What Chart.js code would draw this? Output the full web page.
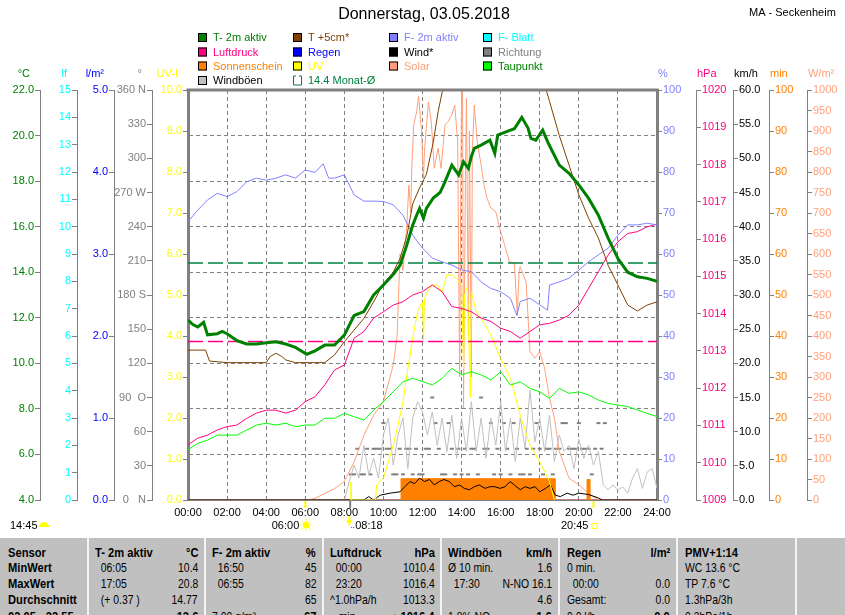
<!DOCTYPE html>
<html><head><meta charset="utf-8">
<script src="https://cdn.jsdelivr.net/npm/chart.js@4.4.0/dist/chart.umd.min.js"></script>
<style>
html,body{margin:0;padding:0;background:#fff;}
#wrap{position:relative;width:845px;height:615px;overflow:hidden;}
#c{position:absolute;left:0;top:0;}
#tbl{position:absolute;left:0;top:538px;width:845px;height:77px;background:#c0c0c0;font-family:'Liberation Sans',Arial,sans-serif;font-size:13px;color:#000;overflow:hidden;}
.cell{position:absolute;white-space:pre;line-height:16px;}
.sep{position:absolute;top:0;bottom:0;width:2px;background:#f4f4f4;}
</style></head>
<body><div id="wrap"><canvas id="c" width="845" height="615"></canvas><div id="tbl"></div></div>
<script>
// ---------------- DATA ----------------
const t2mHours = [0,0.25,0.5,0.8,1,1.5,1.75,2,2.5,3,3.5,4,4.5,5,5.5,6.08,6.5,7,7.5,8,8.5,9,9.5,10,10.5,10.85,11.2,11.5,11.7,11.85,12.05,12.2,12.55,12.9,13.15,13.5,13.85,14.1,14.35,14.5,14.65,15,15.45,15.7,15.85,16.3,16.7,17.08,17.4,17.55,17.8,18.15,18.4,18.65,19,19.5,20,20.5,21,21.5,22,22.5,23,23.5,24];
const t2mValues = [11.9,11.7,11.6,11.8,11.25,11.3,11.4,11.3,11.0,10.85,10.85,10.9,10.95,10.85,10.7,10.4,10.55,10.8,10.8,11.24,12.1,12.27,13.0,13.44,13.9,14.3,15.2,16.07,16.5,16.8,16.37,16.8,17.26,17.5,17.97,18.7,18.27,18.85,18.56,19.07,19.44,19.58,19.8,19.22,20.02,20.17,20.3,20.8,20.33,19.88,19.8,20.24,19.73,19.3,18.7,18.34,17.83,17.24,16.5,15.5,14.6,14.0,13.8,13.73,13.6];

const t5Hours = [0,0.9,1.1,2,4,4.2,4.5,4.8,5,5.5,7,7.5,8,8.5,9,9.5,10,10.5,10.85,11.2,11.5,11.85,12.2,12.55,12.8,13.03,13.5,14,15,16,17,18,18.33,18.5,19,19.5,20,20.5,21,21.5,22,22.5,23,23.5,24];
const t5Values = [10.58,10.58,10.1,10.03,10.03,10.3,10.44,10.3,10.15,10.03,10.03,10.37,10.95,11.46,11.97,12.7,13.5,14.0,14.6,15.6,17.0,17.7,18.3,19.7,21.05,22.0,24.5,26,27,26.5,25,23,22.0,21.5,20.0,18.7,17.4,16.37,15.5,14.3,13.44,12.56,12.3,12.56,12.7];

const humHours = [0,0.5,1,1.5,2,2.5,3,3.5,4,4.5,5,5.5,6,6.5,6.92,7.2,7.5,8,8.5,9,9.5,10,10.5,11,11.5,12,12.5,13,13.5,14,14.5,15,15.5,16,16.5,16.83,17,17.5,18,18.4,18.5,19,19.5,20,20.5,21,21.5,22,22.5,23,23.5,24];
const humValues = [67.9,70.7,73.2,74.8,74.0,75.2,77.6,78.5,78.0,78.5,79.3,78.5,80.5,79.9,82,78.5,78.5,79.3,74.4,72.9,72.9,72.8,72.0,69.5,64.6,61.4,59.0,58.1,57.3,56.1,55.7,53.2,51.6,50.8,49.2,45,48.4,49.2,47.6,46.3,52.4,53.2,54.1,56.1,58.1,59.8,61.4,64.6,67.1,67.1,67.5,67.1];

const halfHours = Array.from({length: 49}, (_, i) => i / 2);
const pressureValues = [1010.48,1010.66,1010.74,1010.88,1010.97,1011.01,1011.19,1011.33,1011.41,1011.41,1011.33,1011.41,1011.64,1011.77,1012.09,1012.49,1012.62,1013.34,1013.52,1013.88,1014.05,1014.23,1014.32,1014.5,1014.59,1014.77,1014.59,1014.19,1014.14,1014.05,1013.88,1013.79,1013.61,1013.52,1013.34,1013.52,1013.7,1013.74,1013.83,1013.96,1014.23,1014.68,1015.13,1015.57,1015.93,1016.15,1016.2,1016.33,1016.4];
const dewValues = [6.2,6.49,6.63,6.85,6.85,6.85,7.07,7.29,7.37,7.29,7.37,7.22,7.29,7.29,7.59,7.59,7.8,7.66,7.51,7.95,8.32,8.75,9.19,9.34,9.2,9.05,9.34,9.78,9.49,9.63,9.49,9.27,9.63,9.05,9.19,8.9,8.75,8.46,8.9,8.68,8.75,8.61,8.39,8.24,8.17,8.1,7.95,7.8,7.66];

const solarHours = [0,6.1,6.5,7,7.5,8,8.5,9,9.5,10,10.5,10.7,10.85,11.0,11.2,11.3,11.4,11.45,11.55,11.7,11.8,11.95,12.05,12.1,12.3,12.45,12.6,12.8,12.95,13.15,13.3,13.5,13.65,13.8,13.9,13.95,14.0,14.05,14.1,14.2,14.25,14.35,14.4,14.5,14.55,14.65,14.8,15.0,15.15,15.3,15.5,15.75,15.95,16.2,16.45,16.7,16.85,16.95,17.0,17.3,17.5,17.75,18.0,18.25,18.5,18.75,19,19.5,20,20.5,21,24];
const solarValues = [0,0,4,16,28,45,93,158,207,240,329,400,600,560,671,768,700,810,915,947,985,900,785,850,971,923,809,858,809,915,923,939,963,874,300,700,996,1000,224,800,980,400,900,300,850,963,874,817,768,736,712,703,663,622,581,578,451,560,569,532,362,346,362,321,248,200,118,53,37,16,0,0];

const uvHours = [8.3,8.33,8.38,9.6,9.65,10,10.25,10.5,10.75,11,11.25,11.5,11.75,12,12.05,12.1,12.25,12.5,12.75,13,13.25,13.5,13.75,14,14.1,14.15,14.3,14.45,14.5,14.75,15,15.5,16,16.5,17,17.5,18,18.5,18.75];
const uvValues = [0,0.44,0,0,0.37,0.53,0.93,1.34,1.83,2.4,3.2,3.95,4.6,4.84,3.86,4.9,5.08,5.24,5.24,5.08,5.49,5.49,5.4,5.24,3.2,5.0,5.2,2.5,5.08,4.6,4.43,4.02,3.45,2.97,2.07,1.34,0.93,0.45,0];

const windHours = [0,9.0,9.25,9.5,9.83,10.34,10.85,11.1,11.36,11.6,11.85,12.1,12.36,12.6,12.86,13.1,13.37,13.63,13.9,14.14,14.4,14.65,14.9,15.2,15.45,15.7,15.97,16.23,16.48,16.7,17.0,17.25,17.5,17.76,18.0,18.3,18.55,18.8,19.05,19.4,19.7,20.0,20.5,21.0,21.2,24];
const windValues = [0,0,0.5,0,0.7,1.0,1.2,1.95,2.7,2.4,3.2,2.7,3.0,2.2,2.7,3.0,2.7,1.95,2.2,1.7,1.5,1.95,2.2,1.7,1.95,1.95,1.7,1.95,2.7,2.2,1.5,1.95,1.7,1.95,1.2,1.7,2.2,0.7,0.5,1.0,0.7,1.0,0.8,0.3,0,0];

const gustHours = [0].concat(Array.from({length: 65}, (_, i) => 8 + i / 4));
const gustValues = [0, 0,2.7,5.1,3.2,8.0,3.7,6.1,3.2,9.5,12.0,5.1,9.5,12.0,4.6,12.0,14.4,12.9,
  9.5,12.9,8.0,12.0, 7.1,12.4,6.1,12.0, 7.1,14.4,7.1,12.0, 6.1,12.0,8.0,14.4, 7.1,12.0,5.6,12.0,
  7.6,16.1,8.5,12.0, 7.1,12.4,5.6,9.5, 7.1,8.0,4.6,8.9, 6.1,8.0,5.1,7.1, 2.2,1.5,2.2,1.5,
  1.9,1.0,3.2,4.6, 1.7,4.1,4.6,1.7];

const sunHours = [0,10.9,10.9,14.46,14.46,14.5,14.5,18.78,18.78,20.42,20.42,20.56,20.56,24];
const sunValues = [0,0,5.2,5.2,0,0,5.2,5.2,0,0,5.0,5.0,0,0];

const dirHours = Array.from({length: 79}, (_, i) => 8 + 1/3 + i / 6);
const dirValues = [22.5,22.5,45,22.5, 22.5,45,22.5,45,45,45, 67.5,45,45,22.5,22.5,45, 22.5,45,45,22.5,45,22.5,
  22.5,45,45,90,67.5,45, 22.5,22.5,67.5,45,22.5,45, 22.5,45,22.5,45,45,22.5, 90,45,45,67.5,22.5,45,
  22.5,67.5,45,22.5,67.5,45, 22.5,22.5,45,22.5,45,67.5, 45,22.5,45,45,22.5,45, 45,67.5,67.5,45,45,45,
  67.5,45,45,45,22.5,45, 67.5,45,67.5];

const rainHours = [0, 24];
const rainValues = [0, 0];

const monthAvgTemp = 14.4;
const pressureRef = 1013.25;

const markerTimes = [6.0, 8.3, 20.75];
const markerLabels = ['06:00', '08:18', '20:45'];
const dayLength = '14:45';

const xTickHours = [0,2,4,6,8,10,12,14,16,18,20,22,24];

const legendLabels = ['T- 2m aktiv','T +5cm*','F- 2m aktiv','F- Blatt','Luftdruck','Regen','Wind*','Richtung','Sonnenschein','UV','Solar','Taupunkt','Windböen', monthAvgTemp.toFixed(1) + ' Monat-Ø'];
const legendBoxColors = ['#008000','#804000','#8080ff','#00ffff','#ff0080','#0000ff','#000000','#808080','#ff8000','#ffff00','#ffa07a','#00ff00','#c0c0c0',null];
const legendTextColors = ['#008000','#804000','#8080ff','#00ffff','#ff0080','#0000ff','#000000','#808080','#ff8000','#ffff00','#ffa07a','#008000','#000000','#008040'];

const tableRows = [
  ['Sensor','T- 2m aktiv','°C','F- 2m aktiv','%','Luftdruck','hPa','Windböen','km/h','Regen','l/m²','PMV+1:14'],
  ['MinWert','  06:05','10.4','  16:50','45','  00:00','1010.4','Ø 10 min.','1.6','0 min.','','WC 13.6 °C'],
  ['MaxWert','  17:05','20.8','  06:55','82','  23:20','1016.4','  17:30','N-NO 16.1','  00:00','0.0','TP 7.6 °C'],
  ['Durchschnitt','  (+ 0.37 )','14.77','','65','^1.0hPa/h','1013.3','','4.6','Gesamt:','0.0','1.3hPa/3h'],
  ['03.05 - 23.55','','13.6','7.00 g/m³','67','   min','▲1016.4','1.8% NO','1.6','0.0 l/h','0.0','0.3hPa/1h']
];

// ---------------- CHART ----------------
const FONT = "'Liberation Sans', Arial, sans-serif";
const pts = (h, v) => h.map((x, i) => ({x: x, y: v[i]}));
function line(label, data, axis, color, width, extra) {
  return Object.assign({label, data, yAxisID: axis, borderColor: color, backgroundColor: color,
    borderWidth: width, pointRadius: 0, tension: 0, fill: false}, extra || {});
}
const datasets = [
  line('T- 2m aktiv', pts(t2mHours, t2mValues), 'yC', '#008000', 3),
  line('T +5cm*', pts(t5Hours, t5Values), 'yC', '#804000', 1),
  line('Monat-Ø', pts([0, 24], [monthAvgTemp, monthAvgTemp]), 'yC', '#008040', 1.5, {borderDash: [15, 5]}),
  line('F- 2m aktiv', pts(humHours, humValues), 'yPct', '#8080ff', 1),
  line('Luftdruck', pts(halfHours, pressureValues), 'yHpa', '#ff0080', 1),
  line('Luftdruck-Ref', pts([0, 24], [pressureRef, pressureRef]), 'yHpa', '#ff0080', 1.5, {borderDash: [15, 5]}),
  line('Taupunkt', pts(halfHours, dewValues), 'yC', '#00ff00', 1),
  line('UV', pts(uvHours, uvValues), 'yUV', '#ffff00', 1),
  line('Wind*', pts(windHours, windValues), 'yKmh', '#000000', 1),
  line('Sonnenschein', pts(sunHours, sunValues), 'yMin', '#ff8000', 1, {fill: 'origin', backgroundColor: '#ff8000'}),
  line('Windböen', pts(gustHours, gustValues), 'yKmh', '#c0c0c0', 1),
  line('Solar', pts(solarHours, solarValues), 'yW', '#ffa07a', 1),
  line('Richtung', pts(dirHours, dirValues), 'yDeg', '#808080', 0, {showLine: false, pointRadius: 2, pointStyle: 'line', pointBorderColor: '#808080', pointBorderWidth: 2}),
  line('Regen', pts(rainHours, rainValues), 'yRain', '#0000ff', 1)
];

const tickFont = {family: FONT, size: 11};
function yAxis(pos, weight, width, min, max, step, color, fmt, extra) {
  const base = {
    type: 'linear', position: pos, weight, min, max,
    afterFit: s => { s.width = width; },
    ticks: {stepSize: step, color, font: tickFont, padding: 1, autoSkip: false, callback: fmt},
    grid: {drawOnChartArea: false, drawTicks: true, tickLength: 5, tickColor: '#808080', color: '#808080'},
    border: {color: '#808080', width: 1}
  };
  if (extra) {
    for (const k in extra) base[k] = Object.assign({}, base[k], extra[k]);
  }
  return base;
}
const f1 = v => Number(v).toFixed(1);
const f0 = v => String(Math.round(v));
const degNames = {0: '0\u00a0\u00a0\u00a0N', 90: '90\u00a0\u00a0O', 180: '180 S', 270: '270 W', 360: '360 N'};

const scales = {
  x: {
    type: 'linear', min: 0, max: 24,
    afterFit: s => { s.height = 25; },
    afterBuildTicks: s => { s.ticks = xTickHours.map(v => ({value: v})); },
    ticks: {color: '#000', font: tickFont, padding: 6, autoSkip: false, maxRotation: 0,
      callback: v => String(v).padStart(2, '0') + ':00'},
    grid: {drawOnChartArea: true, drawTicks: false, color: '#808080'},
    border: {display: true, color: '#808080', width: 1, dash: [4, 3]}
  },
  yC: yAxis('left', 5, 40, 4, 22, 2, '#008000', f1, {grid: {drawOnChartArea: true}, border: {dash: [4, 3]}}),
  yLf: yAxis('left', 4, 37, 0, 15, 1, '#00ffff', f0),
  yRain: yAxis('left', 3, 37, 0, 5, 1, '#0000ff', f1),
  yDeg: yAxis('left', 2, 38, 0, 360, 30, '#808080', v => degNames[v] || String(v)),
  yUV: yAxis('left', 1, 36, 0, 10, 1, '#ffff00', f1, {border: {width: 3}}),
  yPct: yAxis('right', 1, 39, 0, 100, 10, '#8080ff', f0, {border: {width: 3}}),
  yHpa: yAxis('right', 2, 37, 1009, 1020, 1, '#ff0080', f0),
  yKmh: yAxis('right', 3, 36, 0, 60, 5, '#000000', f1),
  yMin: yAxis('right', 4, 38, 0, 100, 10, '#ff8000', f0),
  yW: yAxis('right', 5, 38, 0, 1000, 50, '#ffa07a', f0)
};

const axisTitles = {yC: ['°C', '#008000'], yLf: ['lf', '#00ffff'], yRain: ['l/m²', '#0000ff'], yDeg: ['°', '#808080'], yUV: ['UV-I', '#ffff00'],
  yPct: ['%', '#8080ff'], yHpa: ['hPa', '#ff0080'], yKmh: ['km/h', '#000000'], yMin: ['min', '#ff8000'], yW: ['W/m²', '#ffa07a']};

const decor = {
  id: 'decor',
  afterDatasetsDraw(chart) {
    const {ctx, chartArea: a} = chart;
    ctx.save();
    ctx.fillStyle = '#808080';
    ctx.fillRect(a.left - 1.5, a.top - 1.5, a.right - a.left + 3, 3);
    ctx.restore();
  },
  afterDraw(chart) {
    const ctx = chart.ctx;
    ctx.save();
    // title
    ctx.fillStyle = '#000';
    ctx.font = '16px ' + FONT;
    ctx.textAlign = 'center'; ctx.textBaseline = 'middle';
    ctx.fillText('Donnerstag, 03.05.2018', 424, 15);
    ctx.font = '11px ' + FONT;
    ctx.textAlign = 'left';
    ctx.fillText('MA - Seckenheim', 749, 13);
    // legend
    const cols = [198, 293, 389, 483], rows = [37.5, 52, 66, 80.5];
    legendLabels.forEach((lab, i) => {
      const x = cols[i % 4], y = rows[Math.floor(i / 4)];
      if (legendBoxColors[i]) {
        ctx.fillStyle = legendBoxColors[i];
        ctx.fillRect(x, y - 4.5, 9, 9);
        ctx.strokeStyle = '#000'; ctx.lineWidth = 1;
        ctx.strokeRect(x + 0.5, y - 4, 8, 8);
      } else {
        ctx.strokeStyle = '#008040'; ctx.lineWidth = 1;
        ctx.beginPath();
        ctx.moveTo(x + 3, y - 4.5); ctx.lineTo(x + 0.5, y - 4.5); ctx.lineTo(x + 0.5, y + 4.5);
        ctx.lineTo(x + 8.5, y + 4.5); ctx.lineTo(x + 8.5, y - 4.5); ctx.lineTo(x + 6, y - 4.5);
        ctx.stroke();
      }
      ctx.fillStyle = legendTextColors[i];
      ctx.font = '11px ' + FONT;
      ctx.textAlign = 'left'; ctx.textBaseline = 'middle';
      ctx.fillText(lab, x + 15, y + 0.5);
    });
    // axis titles
    ctx.font = '11px ' + FONT;
    for (const id in axisTitles) {
      const s = chart.scales[id];
      const [t, c] = axisTitles[id];
      ctx.fillStyle = c;
      if (s.position === 'left') { ctx.textAlign = 'right'; ctx.fillText(t, s.right - 10, 74); }
      else { ctx.textAlign = 'left'; ctx.fillText(t, s.left + 1, 74); }
    }
    // markers under the x axis
    const xs = chart.scales.x, bottom = chart.chartArea.bottom;
    const mx = markerTimes.map(t => xs.getPixelForValue(t));
    ctx.lineWidth = 2;
    [['#ffff00', mx[0]], ['#808080', mx[1]], ['#ffff00', mx[2]]].forEach(([c, x]) => {
      ctx.strokeStyle = c; ctx.beginPath(); ctx.moveTo(x, bottom + 1); ctx.lineTo(x, bottom + 8); ctx.stroke();
    });
    ctx.fillStyle = '#000'; ctx.font = '11px ' + FONT; ctx.textBaseline = 'middle';
    ctx.textAlign = 'right';
    ctx.fillText(markerLabels[0], mx[0] - 6, 526);
    ctx.fillText(markerLabels[2], mx[2] - 5, 526);
    ctx.textAlign = 'left';
    ctx.fillText(markerLabels[1], mx[1] + 5, 526);
    ctx.fillText(dayLength, 10, 526);
    // sun icon
    ctx.fillStyle = '#ffff00'; ctx.strokeStyle = '#ffff00'; ctx.lineWidth = 1;
    ctx.beginPath(); ctx.arc(mx[0] + 1, 525, 3.5, 0, Math.PI * 2); ctx.fill();
    for (let k = 0; k < 8; k++) {
      const an = k * Math.PI / 4;
      ctx.beginPath();
      ctx.moveTo(mx[0] + 1 + Math.cos(an) * 4.5, 525 + Math.sin(an) * 4.5);
      ctx.lineTo(mx[0] + 1 + Math.cos(an) * 6, 525 + Math.sin(an) * 6);
      ctx.stroke();
    }
    // arrow icon 08:18
    ctx.beginPath(); ctx.moveTo(mx[1] - 4, 520); ctx.lineTo(mx[1] + 2, 520); ctx.lineTo(mx[1] - 1, 526); ctx.closePath(); ctx.fill();
    ctx.fillRect(mx[1] - 2, 516, 2, 5);
    ctx.fillStyle = '#4040ff'; ctx.fillRect(mx[1] + 1, 527, 1, 1); ctx.fillRect(mx[1] + 3, 527, 1, 1);
    // sunset square
    ctx.strokeStyle = '#ffff00'; ctx.lineWidth = 1;
    ctx.strokeRect(mx[2] - 1.5, 523.5, 5, 5);
    // cloud icon for day length
    ctx.fillStyle = '#ffff00';
    ctx.beginPath(); ctx.arc(44, 526, 4, Math.PI, 0); ctx.fill();
    ctx.fillRect(39, 525, 10, 2);
    ctx.restore();
  }
};

new Chart(document.getElementById('c'), {
  type: 'line',
  data: {datasets},
  options: {
    responsive: false, animation: false, events: [],
    layout: {padding: {top: 90, bottom: 90, left: 0, right: 0}},
    plugins: {legend: {display: false}, tooltip: {enabled: false}, title: {display: false}},
    scales
  },
  plugins: [decor]
});

// ---------------- TABLE ----------------
(function () {
  const tbl = document.getElementById('tbl');
  const seps = [87, 204, 322, 440, 558, 676, 795];
  seps.forEach(x => { const d = document.createElement('div'); d.className = 'sep'; d.style.left = x + 'px'; tbl.appendChild(d); });
  const lefts = [8, 95, null, 212, null, 330, null, 448, null, 567, null, 685];
  const rights = [null, null, 198, null, 316, null, 435, null, 552, null, 670, null];
  const tops = [7, 22, 38, 54, 71];
  tableRows.forEach((row, r) => {
    row.forEach((txt, c) => {
      if (!txt) return;
      const d = document.createElement('div');
      d.className = 'cell';
      d.textContent = txt;
      d.style.top = tops[r] + 'px';
      const bold = r === 0 || c === 0 || (r === 4 && rights[c] !== null);
      d.style.fontWeight = bold ? 'bold' : 'normal';
      d.style.fontSize = bold ? '12px' : '13px';
      const sx = bold ? 0.93 : 0.8;
      if (rights[c] !== null) {
        d.style.right = (845 - rights[c]) + 'px';
        d.style.transformOrigin = 'right center';
      } else {
        d.style.left = lefts[c] + 'px';
        d.style.transformOrigin = 'left center';
      }
      d.style.transform = 'scaleX(' + sx + ')';
      tbl.appendChild(d);
    });
  });
})();
</script>
</body></html>
